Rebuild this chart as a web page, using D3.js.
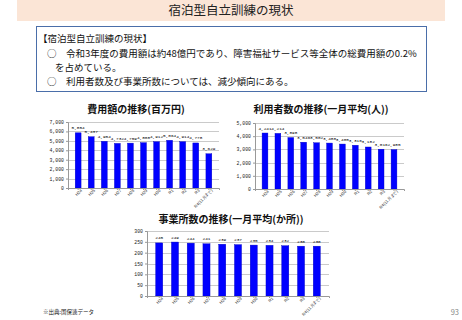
<!DOCTYPE html>
<html>
<head>
<meta charset="utf-8">
<script src="https://cdn.jsdelivr.net/npm/d3@7"></script>
<style>
  body { margin: 0; background: #fff; }
  svg { display: block; font-family: "Noto Sans CJK JP", "Noto Sans", sans-serif; }
  .mono { font-family: "Liberation Mono", "DejaVu Sans Mono", monospace; }
</style>
</head>
<body>
<div class="svg-container"></div>
<script>
// data
const categories = ['H24', 'H25', 'H26', 'H27', 'H28', 'H29', 'H30', 'R1', 'R2', 'R3', 'R4(11月まで)'];
const cost_values = [5854, 5437, 4954, 4732, 4759, 4808, 4912, 5064, 4914, 4778, 3629];
const user_values = [4241, 4214, 3898, 3546, 3502, 3480, 3405, 3316, 3182, 3016, 2985];
const office_values = [245, 249, 244, 241, 239, 237, 235, 234, 232, 230, 230];
const cost_ticks = [0, 1000, 2000, 3000, 4000, 5000, 6000, 7000];
const user_ticks = [0, 1000, 2000, 3000, 4000, 5000];
const office_ticks = [0, 50, 100, 150, 200, 250, 300];

const W = 462, H = 320;
const fmt = d3.format(',');

var svg = d3.select('.svg-container')
    .append('svg')
    .attr('width', W)
    .attr('height', H)
    .attr('viewBox', `0 0 ${W} ${H}`);

// header band
svg.append('rect')
    .attr('x', 17).attr('y', 0).attr('width', 428).attr('height', 21)
    .attr('fill', '#fbe5d6');
svg.append('text')
    .attr('x', 231).attr('y', 15)
    .attr('text-anchor', 'middle')
    .style('font-size', '12.5px')
    .attr('fill', '#222')
    .text('宿泊型自立訓練の現状');

// summary box
svg.append('rect')
    .attr('x', 36.5).attr('y', 26.5).attr('width', 390).attr('height', 65)
    .attr('fill', 'none').attr('stroke', '#4a6ea9').attr('stroke-width', 1);

const lines = [
    {x: 38, y: 42, t: '【宿泊型自立訓練の現状】'},
    {x: 47, y: 57, t: '○　令和3年度の費用額は約48億円であり、障害福祉サービス等全体の総費用額の0.2%'},
    {x: 55, y: 71, t: 'を占めている。'},
    {x: 47, y: 85, t: '○　利用者数及び事業所数については、減少傾向にある。'}
];
svg.selectAll('.box-line')
    .data(lines).enter().append('text')
    .attr('class', 'box-line')
    .attr('x', d => d.x).attr('y', d => d.y)
    .style('font-size', '9.5px')
    .attr('fill', '#111')
    .text(d => d.t);

// one bar chart
function barChart(opt) {
    var g = svg.append('g');
    var xScale = d3.scaleBand().domain(categories).range([opt.x0, opt.x1]).padding(opt.pad);
    var yMax = opt.ticks[opt.ticks.length - 1];
    var yScale = d3.scaleLinear().domain([0, yMax]).range([opt.y1, opt.y0]);

    // gridlines
    g.selectAll('.grid')
        .data(opt.ticks).enter().append('line')
        .attr('x1', opt.x0).attr('x2', opt.x1)
        .attr('y1', d => Math.round(yScale(d)) + 0.5)
        .attr('y2', d => Math.round(yScale(d)) + 0.5)
        .attr('stroke', '#bdbdbd').attr('stroke-width', 0.8);

    // y axis
    var yAxis = g.append('g')
        .attr('transform', `translate(${opt.x0},0)`)
        .call(d3.axisLeft(yScale).tickValues(opt.ticks).tickFormat(opt.tickFmt).tickSize(2));
    yAxis.select('.domain').attr('stroke', '#999');
    yAxis.selectAll('.tick line').attr('stroke', '#999');
    yAxis.selectAll('text')
        .attr('class', 'mono')
        .style('font-size', '4.8px').attr('fill', '#222').attr('x', -4);

    // bars
    g.selectAll('.bar')
        .data(opt.values).enter().append('rect')
        .attr('x', (d, i) => xScale(categories[i]))
        .attr('y', d => yScale(d))
        .attr('width', xScale.bandwidth())
        .attr('height', d => yScale(0) - yScale(d))
        .attr('fill', '#0000ff')
        .attr('stroke', '#0000c0').attr('stroke-width', 0.4);

    // value labels
    g.selectAll('.val')
        .data(opt.values).enter().append('text')
        .attr('class', 'mono')
        .attr('x', (d, i) => xScale(categories[i]) + xScale.bandwidth() / 2)
        .attr('y', d => yScale(d) - 3.5)
        .attr('text-anchor', 'middle')
        .style('font-size', '4.4px')
        .attr('fill', '#000')
        .text(d => opt.valFmt(d));

    // x axis
    var xAxis = g.append('g')
        .attr('transform', `translate(0,${opt.y1})`)
        .call(d3.axisBottom(xScale).tickSize(2));
    xAxis.select('.domain').attr('stroke', '#999');
    xAxis.selectAll('.tick line').attr('stroke', '#999');
    xAxis.selectAll('text')
        .style('font-size', '4.2px')
        .attr('fill', '#333')
        .attr('text-anchor', 'end')
        .attr('dy', 0)
        .attr('y', 5)
        .attr('x', 1)
        .attr('transform', 'rotate(-45)');

    // title
    svg.append('text')
        .attr('x', opt.tx).attr('y', opt.ty)
        .attr('text-anchor', 'middle')
        .style('font-size', '10px')
        .style('font-weight', 'bold')
        .attr('fill', '#111')
        .text(opt.title);
}

barChart({
    values: cost_values, ticks: cost_ticks,
    x0: 68, x1: 219, y0: 122, y1: 188, pad: 0.55,
    tickFmt: fmt, valFmt: fmt,
    title: '費用額の推移(百万円)', tx: 136, ty: 113
});

barChart({
    values: user_values, ticks: user_ticks,
    x0: 255, x1: 404, y0: 123, y1: 189, pad: 0.55,
    tickFmt: fmt, valFmt: fmt,
    title: '利用者数の推移(一月平均(人))', tx: 321, ty: 113
});

barChart({
    values: office_values, ticks: office_ticks,
    x0: 147, x1: 329, y0: 231, y1: 296, pad: 0.55,
    tickFmt: d3.format('d'), valFmt: d3.format('d'),
    title: '事業所数の推移(一月平均(か所))', tx: 231, ty: 223
});

// footer
svg.append('text')
    .attr('x', 43).attr('y', 314)
    .style('font-size', '5.5px')
    .attr('fill', '#222')
    .text('※出典:国保連データ');
svg.append('text')
    .attr('x', 459).attr('y', 315)
    .attr('text-anchor', 'end')
    .style('font-size', '7.5px')
    .attr('fill', '#888')
    .text('93');
</script>
</body>
</html>
